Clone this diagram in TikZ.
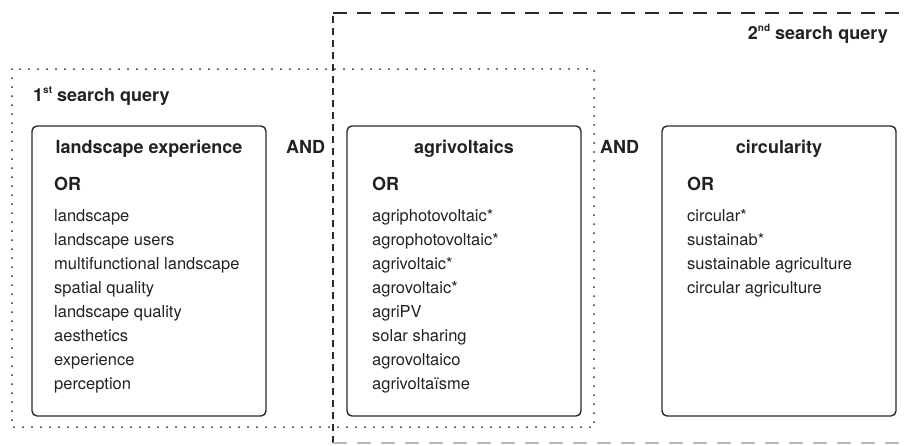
\documentclass[tikz,border=0pt]{standalone}
\usepackage{fontspec}
\setmainfont{TeX Gyre Heros}
\definecolor{ink}{HTML}{222222}
\definecolor{frame}{HTML}{2a2a2a}
\newcommand{\supx}[1]{\raisebox{0.75ex}{\fontsize{10}{10}\selectfont #1}}
\begin{document}
\begin{tikzpicture}[x=1pt,y=-1pt,
  termbox/.style={draw=frame,line width=1.4pt,rounded corners=5pt},
  title/.style={font=\fontsize{18}{20}\selectfont\bfseries,text=ink,anchor=base,inner sep=0pt},
  boldtxt/.style={font=\fontsize{18}{20}\selectfont\bfseries,text=ink,anchor=base west,inner sep=0pt},
  item/.style={font=\fontsize{16.5}{18}\selectfont,text=ink,anchor=base west,inner sep=0pt},
  dotline/.style={draw=frame,line width=2pt,line cap=round,dash pattern=on 0pt off 9pt},
  vdash/.style={draw=frame,line width=1.4pt,dash pattern=on 7pt off 5pt},
  hdash/.style={draw=frame,line width=1.4pt,dash pattern=on 14pt off 10pt}]
\useasboundingbox (0,0) rectangle (906,445);
% query frames
\draw[dotline] (12,69) rectangle (594,427);
\draw[vdash] (333,443) -- (333,13);
\draw[hdash] (333,13) -- (930,13);
\draw[hdash,draw=gray!55] (333,443) -- (930,443);
\node[boldtxt] (q1) at (33,101) {1\supx{st} search query};
\node[title,anchor=base east] (q2) at (888,39) {2\supx{nd} search query};
% boxes
\draw[termbox] (32,126) rectangle (266,416);
\draw[termbox] (347,126) rectangle (581,416);
\draw[termbox] (662,126) rectangle (896,416);
\node[title] (t1) at (149,153) {landscape experience};
\node[title] (t2) at (464,153) {agrivoltaics};
\node[title] (t3) at (779,153) {circularity};
\node[boldtxt] (and1) at (286,153) {AND};
\node[boldtxt] (and2) at (600,153) {AND};
\node[boldtxt] (or1) at (54,190) {OR};
\node[boldtxt] (or2) at (372,190) {OR};
\node[boldtxt] (or3) at (687,190) {OR};
\foreach \t [count=\i from 0] in {landscape,landscape users,multifunctional landscape,spatial quality,landscape quality,aesthetics,experience,perception}
  \node[item] (a\i) at (54,221+24*\i) {\t};
\foreach \t [count=\i from 0] in {agriphotovoltaic*,agrophotovoltaic*,agrivoltaic*,agrovoltaic*,agriPV,solar sharing,agrovoltaico,agrivolta\"isme}
  \node[item] (b\i) at (372,221+24*\i) {\t};
\foreach \t [count=\i from 0] in {circular*,sustainab*,sustainable agriculture,circular agriculture}
  \node[item] (c\i) at (687,221+24*\i) {\t};
\end{tikzpicture}
\end{document}
